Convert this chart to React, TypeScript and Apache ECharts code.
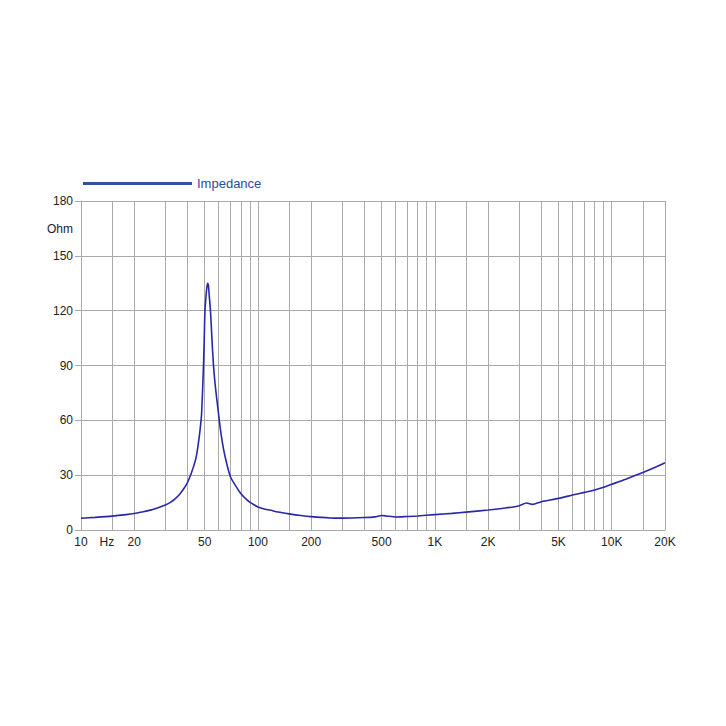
import React, { useEffect, useRef } from "react";
import * as echarts from "echarts";

// Impedance curve (frequency in Hz, impedance in Ohm)
const FREQS = [10, 12, 15, 18, 20, 22, 25, 28, 30, 32, 34, 36, 38, 40, 42, 44, 45, 46, 47, 48, 49, 49.6, 50.2, 51, 51.5, 52, 52.5, 53, 54, 55, 56, 57, 58, 59.5, 60.5, 62, 64, 66, 68, 70, 75, 80, 87, 95, 100, 110, 117, 130, 150, 175, 200, 256, 300, 400, 460, 500, 530, 600, 700, 800, 1000, 1250, 1500, 2000, 2500, 3000, 3300, 3570, 4000, 5000, 6000, 7000, 8000, 9000, 10000, 12000, 15000, 17500, 20000];
const OHMS = [6.4, 6.9, 7.6, 8.4, 9.0, 9.8, 11.0, 12.6, 13.7, 15.1, 17.0, 19.4, 22.4, 26, 31, 37, 41, 47, 54, 63, 84, 100, 120, 129, 133, 135, 134, 129, 119, 104, 91, 82, 75, 66, 60, 52, 44, 38, 33, 29, 24, 20, 16.4, 13.8, 12.6, 11.4, 10.9, 9.8, 8.8, 7.9, 7.3, 6.6, 6.5, 6.8, 7.2, 7.9, 7.7, 7.1, 7.4, 7.7, 8.4, 9.1, 9.8, 10.9, 12, 13.3, 14.8, 14.0, 15.5, 17.3, 19.1, 20.6, 21.9, 23.4, 25, 27.8, 31.5, 34.2, 36.8];

const X_GRID = [10, 15, 20, 30, 40, 50, 60, 70, 80, 90, 100, 150, 200, 300, 400, 500, 600, 700, 800, 900, 1000, 1500, 2000, 3000, 4000, 5000, 6000, 7000, 8000, 9000, 10000, 15000, 20000];
const X_LABEL_VALUES = [10, 14, 20, 50, 100, 200, 500, 1000, 2000, 5000, 10000, 20000];
const X_LABEL_TEXTS = ["10", "Hz", "20", "50", "100", "200", "500", "1K", "2K", "5K", "10K", "20K"];

const SERIES_NAME = "Impedance";
const Y_UNIT = "Ohm";

export default function App() {
  const ref = useRef<HTMLDivElement>(null);
  useEffect(() => {
    if (!ref.current) return;
    const chart = echarts.init(ref.current, null, { renderer: "svg" });
    const font = "'Liberation Sans', Arial, Helvetica, sans-serif";
    const gridColor = "#a9a9a9";
    chart.setOption({
      animation: false,
      backgroundColor: "#ffffff",
      textStyle: { fontFamily: font },
      grid: { left: 81, right: 61, top: 201, bottom: 196, containLabel: false },
      legend: {
        left: 83,
        top: 177,
        padding: 0,
        itemWidth: 109,
        itemHeight: 3,
        itemGap: 10,
        textStyle: { color: "#2b4c9b", fontSize: 13, fontFamily: font },
        data: [{ name: SERIES_NAME, icon: "rect", itemStyle: { color: "#2f5597" } }],
      },
      xAxis: {
        type: "log",
        logBase: 10,
        min: 10,
        max: 20000,
        axisLine: { show: true, lineStyle: { color: gridColor, width: 1 } },
        axisTick: { show: false, customValues: X_GRID },
        splitLine: { show: true, lineStyle: { color: gridColor, width: 1 } },
        minorTick: { show: false },
        axisLabel: {
          customValues: X_LABEL_VALUES,
          margin: 6,
          color: "#222",
          fontSize: 12,
          fontFamily: font,
          formatter: (v: number) => {
            const i = X_LABEL_VALUES.findIndex((x) => Math.abs(x - v) / x < 1e-6);
            return i >= 0 ? X_LABEL_TEXTS[i] : "";
          },
        },
      },
      yAxis: {
        type: "value",
        min: 0,
        max: 180,
        interval: 30,
        axisLine: { show: true, lineStyle: { color: gridColor, width: 1 } },
        axisTick: { show: true, length: 6, lineStyle: { color: gridColor } },
        splitLine: { show: true, lineStyle: { color: gridColor, width: 1 } },
        axisLabel: { margin: 8, color: "#222", fontSize: 12, fontFamily: font },
      },
      graphic: [
        {
          type: "text",
          x: 73,
          y: 229,
          style: {
            text: Y_UNIT,
            align: "right",
            verticalAlign: "middle",
            fill: "#222",
            fontSize: 12,
            fontFamily: font,
          },
        },
      ],
      series: [
        {
          name: SERIES_NAME,
          type: "line",
          showSymbol: false,
          symbol: "none",
          smooth: 0.25,
          z: 5,
          lineStyle: { color: "#2828a8", width: 1.6 },
          itemStyle: { color: "#2828a8" },
          data: FREQS.map((f, i) => [f, OHMS[i]]),
        },
      ],
    });
    return () => chart.dispose();
  }, []);
  return (
    <div
      ref={ref}
      style={{ position: "fixed", left: 0, top: 0, width: 726, height: 726, background: "#fff" }}
    />
  );
}
